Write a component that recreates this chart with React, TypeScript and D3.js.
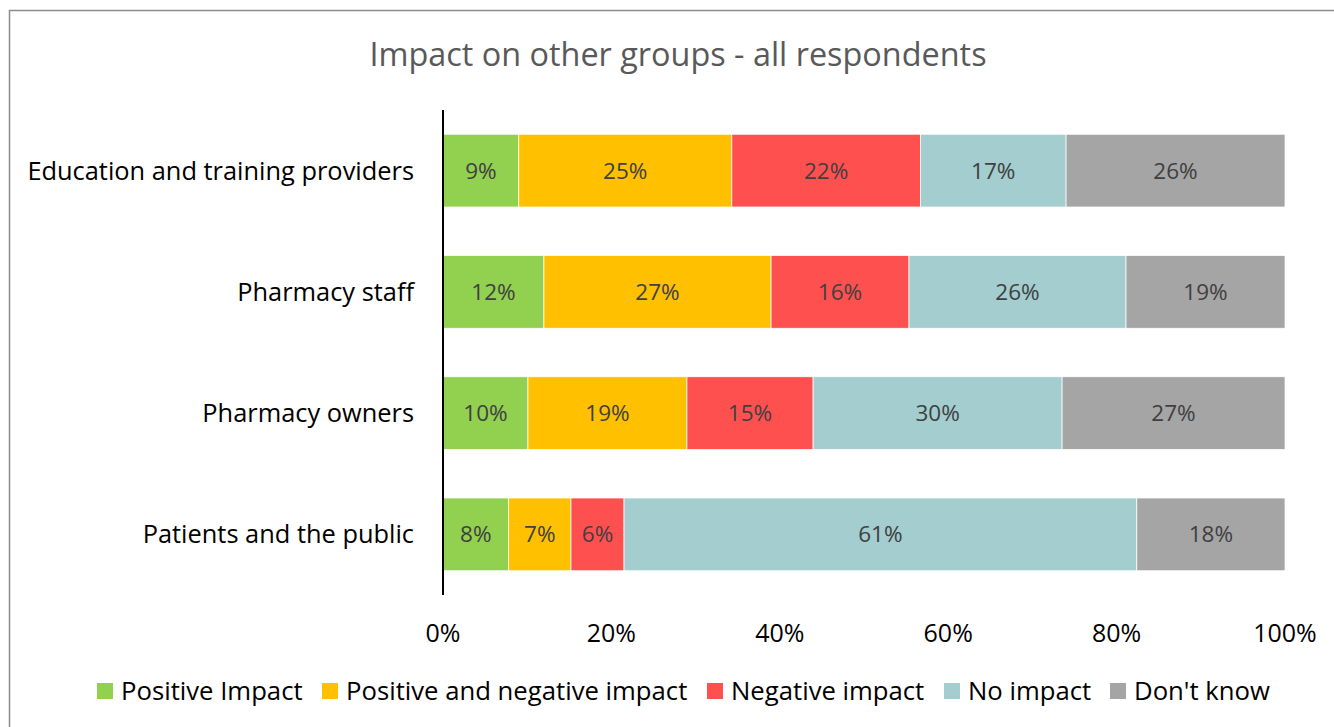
import React from "react";
import * as d3 from "d3";

const categories = [
  "Education and training providers",
  "Pharmacy staff",
  "Pharmacy owners",
  "Patients and the public",
];
const seriesNames = [
  "Positive Impact",
  "Positive and negative impact",
  "Negative impact",
  "No impact",
  "Don't know",
];
const seriesColors = ["#92D050", "#FFC000", "#FF5050", "#A3CDCE", "#A5A5A5"];
const positiveImpact = [9.0, 12.0, 10.1, 7.8];
const mixedImpact = [25.3, 27.0, 18.9, 7.4];
const negativeImpact = [22.4, 16.4, 15.0, 6.3];
const noImpact = [17.3, 25.8, 29.6, 60.9];
const dontKnow = [26.0, 18.9, 26.5, 17.6];
const xTicks = [0, 0.2, 0.4, 0.6, 0.8, 1.0];

const FONT = "'Open Sans', sans-serif";

export default function App() {
  const W = 1334;
  const H = 727;
  const plotLeft = 443;
  const plotRight = 1285;
  const plotTop = 110;
  const plotBottom = 595;

  const rows = categories.map((c, i) => {
    const vals = [positiveImpact[i], mixedImpact[i], negativeImpact[i], noImpact[i], dontKnow[i]];
    const total = d3.sum(vals);
    return { c, vals, total };
  });

  const x = d3.scaleLinear().domain([0, 1]).range([plotLeft, plotRight]);
  const y = d3
    .scaleBand<string>()
    .domain(categories)
    .range([plotTop, plotBottom])
    .paddingInner(0.4)
    .paddingOuter(0.2);

  const legendX = [97, 322, 707, 944, 1110];

  return (
    <svg
      width={W}
      height={H}
      style={{ position: "absolute", left: 0, top: 0, background: "#fff" }}
      fontFamily={FONT}
    >
      <rect x={9.5} y={10.5} width={W + 20} height={H + 20} fill="#fff" stroke="#8C8C8C" strokeWidth={1.5} />
      <text x={678} y={66} textAnchor="middle" fontSize={32.4} fill="#595959">
        Impact on other groups - all respondents
      </text>
      {rows.map((r) => {
        let cum = 0;
        const y0 = y(r.c)!;
        return (
          <g key={r.c}>
            {r.vals.map((v, j) => {
              const start = cum / r.total;
              cum += v;
              const end = cum / r.total;
              const x0 = x(start);
              const x1 = x(end);
              return (
                <g key={j}>
                  <rect
                    x={x0}
                    y={y0}
                    width={x1 - x0}
                    height={y.bandwidth()}
                    fill={seriesColors[j]}
                    stroke="#fff"
                    strokeWidth={0.75}
                  />
                  <text
                    x={(x0 + x1) / 2}
                    y={y0 + y.bandwidth() / 2}
                    dy="0.35em"
                    textAnchor="middle"
                    fontSize={22.5}
                    fill="#404040"
                  >
                    {Math.round(v)}%
                  </text>
                </g>
              );
            })}
            <text
              x={414}
              y={y0 + y.bandwidth() / 2}
              dy="0.35em"
              textAnchor="end"
              fontSize={25.4}
              fill="#000"
            >
              {r.c}
            </text>
          </g>
        );
      })}
      <line x1={x(0)} x2={x(0)} y1={plotTop} y2={plotBottom} stroke="#000" strokeWidth={2} />
      {xTicks.map((t) => (
        <text key={t} x={x(t)} y={642} textAnchor="middle" fontSize={25} fill="#000">
          {Math.round(t * 100)}%
        </text>
      ))}
      {seriesNames.map((s, j) => (
        <g key={s}>
          <rect x={legendX[j]} y={683} width={16} height={16} fill={seriesColors[j]} />
          <text x={legendX[j] + 24} y={691} dy="0.35em" fontSize={25.7} fill="#000">
            {s}
          </text>
        </g>
      ))}
    </svg>
  );
}
